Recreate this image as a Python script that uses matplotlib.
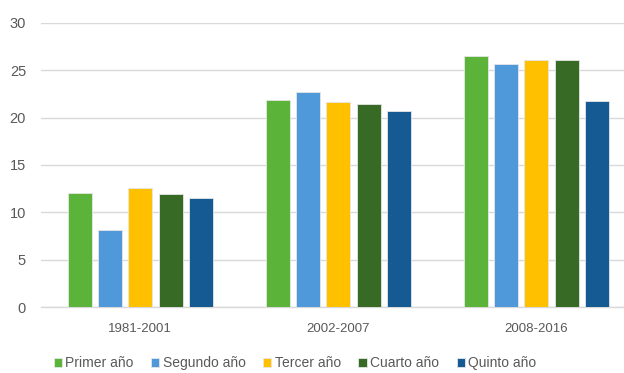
import numpy as np
import matplotlib.pyplot as plt

periods = ['1981-2001', '2002-2007', '2008-2016']
series = ['Primer año', 'Segundo año', 'Tercer año', 'Cuarto año', 'Quinto año']
primer = [12.1, 21.8, 26.5]
segundo = [8.2, 22.65, 25.6]
tercer = [12.6, 21.6, 26.1]
cuarto = [11.9, 21.4, 26.1]
quinto = [11.5, 20.7, 21.7]
colors = ['#5CB33A', '#4F98D9', '#FFC000', '#376A25', '#165A93']

plt.rcParams['font.family'] = ['Liberation Sans', 'DejaVu Sans']

fig = plt.figure(figsize=(6.24, 3.73), dpi=100)
ax = fig.add_axes([41.3 / 624, 65.7 / 373, 594 / 624, 284.6 / 373])

x = np.arange(len(periods))
pitch = 0.153
width = 0.121
for i, (name, vals) in enumerate(zip(series, [primer, segundo, tercer, cuarto, quinto])):
    ax.bar(x + (i - 2) * pitch, vals, width, color=colors[i], label=name,
           edgecolor='#E6E6E6', linewidth=0.6, zorder=3)

ax.set_xlim(-0.5, 2.5)
ax.set_ylim(0, 30)
ax.set_yticks(range(0, 31, 5))
ax.set_xticks(x)
ax.set_xticklabels(periods)
ax.grid(axis='y', color='#D9D9D9', linewidth=1.0, zorder=0)
for s in ['top', 'right', 'left']:
    ax.spines[s].set_visible(False)
ax.spines['bottom'].set_color('#D9D9D9')
ax.spines['bottom'].set_linewidth(1.0)
ax.tick_params(axis='both', length=0, labelcolor='#595959')
ax.tick_params(axis='y', pad=11, labelsize=10.5)
ax.tick_params(axis='x', pad=11, labelsize=9.5)

fig.legend(loc='center', bbox_to_anchor=(295 / 624, 10 / 373), ncol=5, frameon=False,
           fontsize=10, handlelength=0.6, handleheight=0.6, handletextpad=0.25,
           columnspacing=1.25, labelcolor='#595959')

fig.savefig('out.png', dpi=100)
